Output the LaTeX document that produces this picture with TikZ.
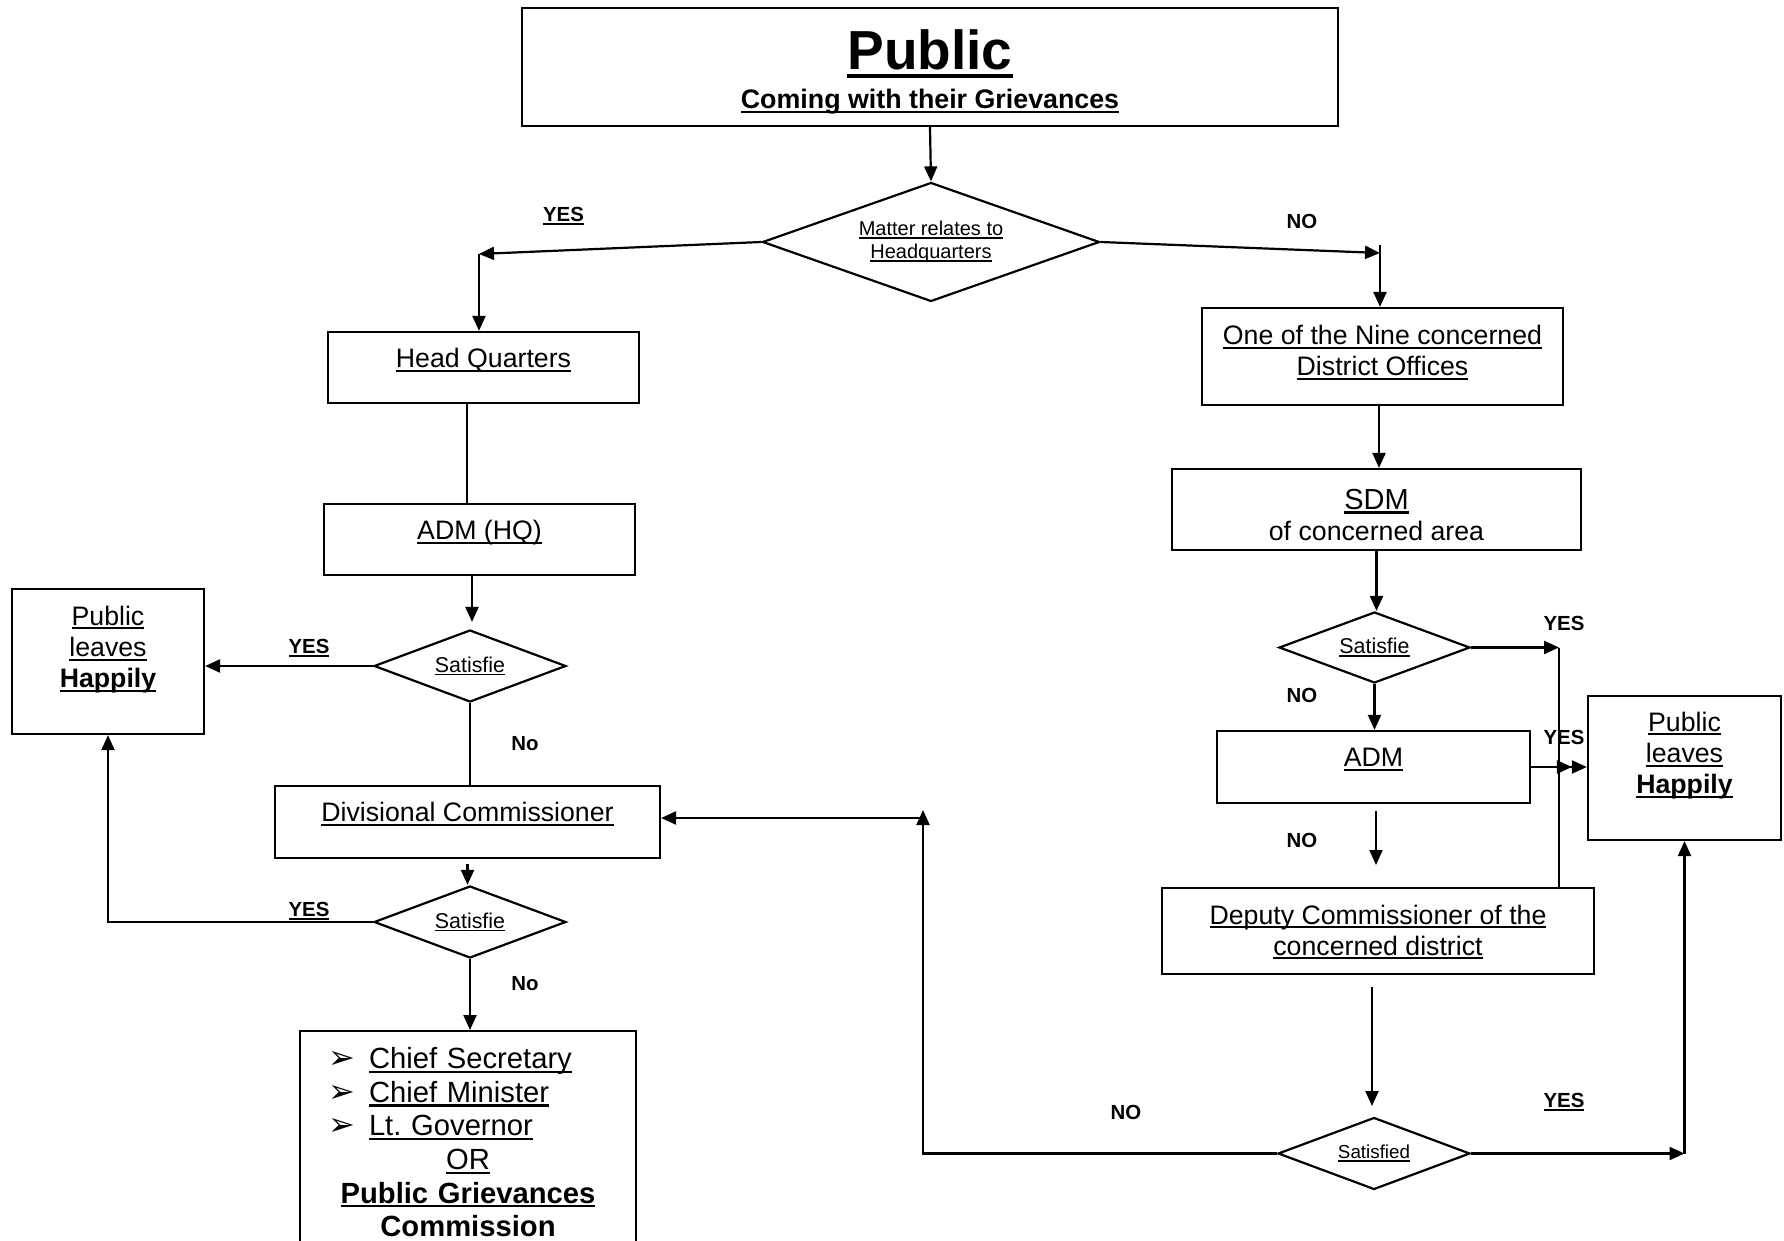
\documentclass[tikz,border=0pt]{standalone}
\usepackage{fontspec}
\setmainfont{Liberation Sans}
\newfontfamily\dejavu{DejaVu Sans}
\usetikzlibrary{shapes.geometric,arrows.meta}

\newcommand{\uln}[1]{\setbox0\hbox{#1}\leavevmode\rlap{\rule[-0.15em]{\wd0}{0.075em}}\box0}
\newcommand{\govline}[1]{\makebox[150pt][l]{\hspace{5pt}\makebox[20.5pt][l]{\dejavu\fontsize{16}{16}\selectfont ➢}\uln{#1}}}

\begin{document}
\begin{tikzpicture}[x=0.5pt,y=-0.5pt]
    \tikzstyle{box}=[draw, line width=1.1pt, align=center, inner sep=2pt,
                     font=\fontsize{13.35}{15.6}\selectfont]
    \tikzstyle{ask}=[diamond, draw, line width=1.1pt, aspect=2.6, inner sep=0pt, align=center,
                     minimum width=96pt, minimum height=36pt,
                     font=\fontsize{10.7}{11.5}\selectfont]
    \tikzstyle{answer}=[font=\bfseries\fontsize{10.2}{12}\selectfont]
    \tikzstyle{arr}=[line width=1.1pt, -{Triangle[length=7.5pt,width=6.5pt]}]
    \tikzstyle{ln}=[line width=1.1pt]

    \useasboundingbox (0,0) rectangle (1784,1241);
    \clip (0,0) rectangle (1784,1241);

    % Draw top box and first question
    \node [box, minimum width=408pt, minimum height=59pt, text height=41.7pt, text depth=0pt] (public) at (930,67)
        {{\fontsize{27.5}{30}\selectfont\bfseries\uln{Public}}\\[3.8pt]
         {\fontsize{13.4}{16}\selectfont\bfseries\uln{Coming with their Grievances}}};
    \node [ask, minimum width=168.5pt, minimum height=59.5pt, aspect=2.8, font=\fontsize{10}{11.5}\selectfont] (matter) at (931,242)
        {\uln{Matter relates to}\\\uln{Headquarters}};

    % Draw headquarters branch
    \node [box, minimum width=155.5pt, minimum height=35.5pt, text height=9.6pt, text depth=9.5pt] (hq) at (483.5,367.5) {\uln{Head Quarters}};
    \node [box, minimum width=155.5pt, minimum height=35.5pt, text height=9.6pt, text depth=9.5pt] (admhq) at (479.5,539.5) {\uln{ADM (HQ)}};
    \node [ask] (hqsat) at (470,666) {\uln{Satisfie}};
    \node [box, minimum width=96pt, minimum height=72.5pt, text height=40.8pt, text depth=14.5pt] (lhappy) at (108,661.5)
        {\uln{Public}\\\uln{leaves}\\\uln{\bfseries Happily}};
    \node [box, minimum width=192.5pt, minimum height=36pt, text height=9.6pt, text depth=10pt] (divcom) at (467.5,822) {\uln{Divisional Commissioner}};
    \node [ask] (divsat) at (470,922) {\uln{Satisfie}};
    \node [box, anchor=north, text width=150pt, inner xsep=9pt, inner ysep=8.2pt, text height=10.6pt,
           font=\fontsize{14.6}{16.8}\selectfont] (higher) at (468,1030)
        {\govline{Chief Secretary}\\\govline{Chief Minister}\\\govline{Lt.\ Governor}\\\uln{OR}\\
         \uln{\bfseries Public Grievances}\\\textbf{Commission}};

    % Draw district branch
    \node [box, minimum width=180.5pt, minimum height=48.5pt, text height=25.2pt, text depth=6pt] (nine) at (1382.5,356.5)
        {\uln{One of the Nine concerned}\\\uln{District Offices}};
    \node [box, minimum width=204.5pt, minimum height=40.5pt, text height=30.9pt, text depth=0pt] (sdm) at (1376.5,509.5)
        {{\fontsize{14.5}{16}\selectfont\uln{SDM}}\\of concerned area};
    \node [ask, minimum width=95.5pt, minimum height=35.5pt] (sdmsat) at (1374.5,647.5) {\uln{Satisfie}};
    \node [box, minimum width=156.5pt, minimum height=36pt, text height=9.6pt, text depth=10pt] (adm) at (1373.5,767) {\uln{ADM}};
    \node [box, minimum width=96.5pt, minimum height=72pt, text height=40.8pt, text depth=15pt] (rhappy) at (1684.5,768)
        {\uln{Public}\\\uln{leaves}\\\uln{\bfseries Happily}};
    \node [box, minimum width=216pt, minimum height=43pt, text height=25.2pt, text depth=1pt] (dcd) at (1378,931)
        {\uln{Deputy Commissioner of the}\\\uln{concerned district}};
    \node [ask, font=\fontsize{9.4}{11}\selectfont] (dcdsat) at (1374,1153.5) {\uln{Satisfied}};

    % Draw answers
    \node [answer] (yes1) at (563.5,216) {\uln{YES}};
    \node [answer] (no1) at (1302,221) {NO};
    \node [answer] (yes2) at (309,648) {\uln{YES}};
    \node [answer] (no2) at (525,744) {No};
    \node [answer] (yes3) at (309,911) {\uln{YES}};
    \node [answer] (no3) at (525,984) {No};
    \node [answer] (yes4) at (1564,623) {YES};
    \node [answer] (no4) at (1302,695) {NO};
    \node [answer] (yes5) at (1564,737) {YES};
    \node [answer] (no5) at (1302,840) {NO};
    \node [answer] (no6) at (1126,1112) {NO};
    \node [answer] (yes6) at (1564,1102) {\uln{YES}};

    % Free ends of connectors
    \coordinate (yesturn) at (479,254);
    \coordinate (noturn) at (1380,253);
    \coordinate (yesjoin) at (1559,647.5);
    \coordinate (admout) at (1376,865);
    \coordinate (dcdout) at (1372,1106);
    \coordinate (noup) at (923,810);

    % Draw connectors
    \draw [arr] (public.south) -- (matter.north);
    \draw [arr] (matter.west) -- (yesturn);
    \draw [arr] (yesturn) -- (yesturn |- hq.north);
    \draw [arr] (matter.east) -- (noturn);
    \draw [arr] ([yshift=4pt]noturn) -- (noturn |- nine.north);

    \draw [ln] ([xshift=-8.25pt]hq.south) -- ([xshift=-8.25pt]hq.south |- admhq.north);
    \draw [arr, shorten >=3.5pt] ([xshift=-3.75pt]admhq.south) -- ([xshift=-3.75pt]admhq.south |- hqsat.north);
    \draw [arr] (hqsat.west) -- (hqsat.west -| lhappy.east);
    \draw [ln] (hqsat.south) -- (hqsat.south |- divcom.north);
    \draw [arr] ([yshift=-2.5pt]divcom.south) -- (divcom.south |- divsat.north);
    \draw [arr] (divsat.west) -| (lhappy.south);
    \draw [arr] (divsat.south) -- (divsat.south |- higher.north);

    \draw [arr] ([xshift=-1.75pt]nine.south) -- ([xshift=-1.75pt]nine.south |- sdm.north);
    \draw [arr] (sdm.south) -- (sdm.south |- sdmsat.north);
    \draw [arr] (sdmsat.east) -- (yesjoin);
    \draw [ln] (yesjoin) -- (yesjoin |- dcd.north);
    \draw [arr] (sdmsat.south) -- (sdmsat.south |- adm.north);
    \draw [ln, -{Triangle[length=7.5pt,width=6.5pt]Triangle[length=7.5pt,width=6.5pt]}] (adm.east) -- (adm.east -| rhappy.west);
    \draw [arr] ([yshift=-3.5pt]adm.south -| admout) -- (admout);
    \draw [arr] ([yshift=-6pt]dcd.south -| dcdout) -- (dcdout);
    \draw [arr] (dcdsat.west) -| (noup);
    \draw [arr] ([yshift=-4pt]noup) -- ([yshift=-4pt]noup -| divcom.east);
    \draw [arr] (dcdsat.east) -- (dcdsat.east -| rhappy.south);
    \draw [arr] (dcdsat.east -| rhappy.south) -- (rhappy.south);
\end{tikzpicture}
\end{document}
